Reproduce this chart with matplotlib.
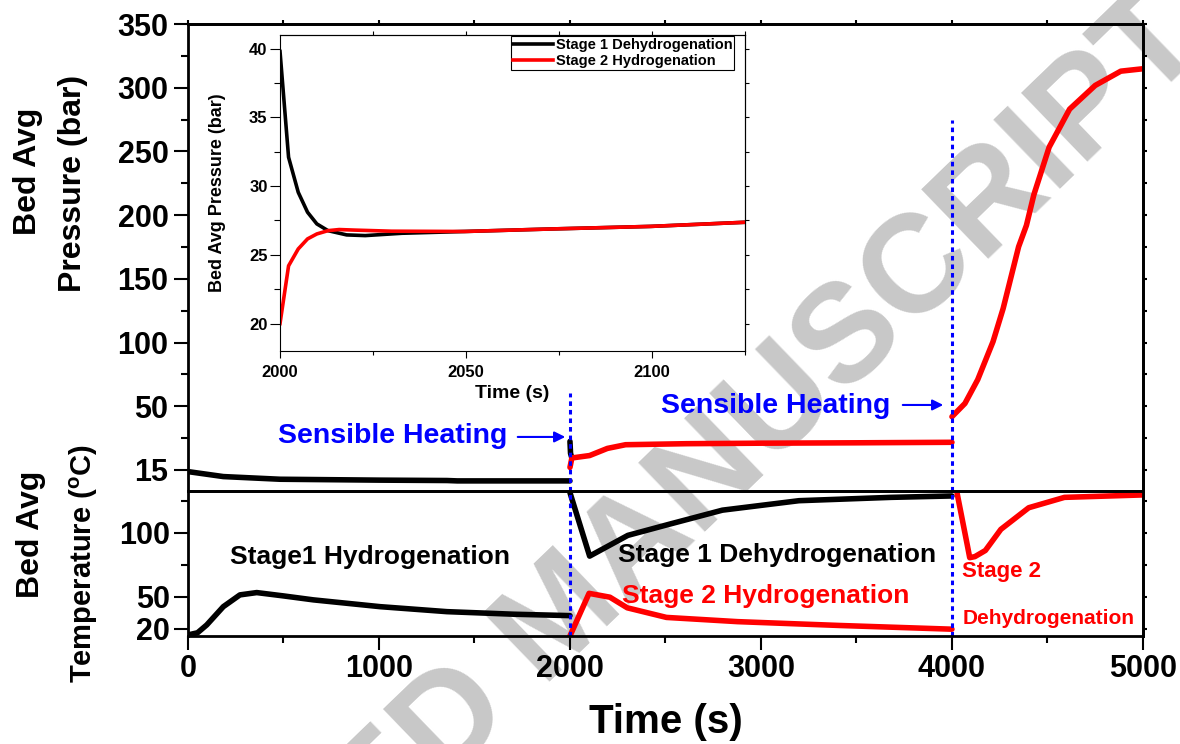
"""
Bed average pressure and temperature over two hydrogenation / dehydrogenation stages
"""
import matplotlib
matplotlib.use('Agg')
import matplotlib.pyplot as plt
from matplotlib.ticker import FixedLocator

plt.rcParams['font.family'] = ['Liberation Sans', 'DejaVu Sans']
plt.rcParams['font.weight'] = 'bold'
plt.rcParams['axes.labelweight'] = 'bold'
plt.rcParams['mathtext.fontset'] = 'custom'
plt.rcParams['mathtext.rm'] = 'Liberation Sans:bold'
plt.rcParams['mathtext.bf'] = 'Liberation Sans:bold'

# ---- top panel: pressure (axis position units) ----
p_h1_t = [0, 185, 482, 1000, 1356, 1410, 2000]
p_h1_v = [-1.3, -5.2, -7.3, -8.0, -8.3, -8.6, -8.6]
p_d1_t = [2000, 2003, 2010]
p_d1_v = [22.4, 13.0, 9.4]
p_h2_t = [2000, 2010, 2103, 2196, 2291, 2610, 3000, 3500, 4000]
p_h2_v = [2.0, 9.4, 11.3, 16.9, 19.8, 20.6, 21.0, 21.3, 21.7]
p_d2_t = [4000, 4068, 4135, 4215, 4268, 4349, 4390, 4429, 4509, 4616, 4750, 4884, 5000]
p_d2_v = [41.8, 52.2, 70.9, 100.7, 126.7, 175.2, 192.0, 216.1, 253.4, 283.2, 301.8, 313.0, 314.9]
p_ticks = [0, 50, 100, 150, 200, 250, 300, 350]
p_tick_labels = ['15', '50', '100', '150', '200', '250', '300', '350']

# ---- bottom panel: temperature ----
T_h1_t = [0, 50, 98, 185, 272, 360, 500, 657, 1006, 1356, 1705, 2000]
T_h1_v = [20.3, 22.0, 28.1, 42.4, 51.6, 53.4, 50.8, 47.7, 42.4, 38.5, 36.5, 35.4]
T_d1_t = [2000, 2103, 2303, 2517, 2798, 3199, 3680, 4000]
T_d1_v = [131.5, 81.9, 98.1, 106.7, 117.8, 125.2, 127.8, 128.9]
T_h2_t = [2000, 2100, 2209, 2300, 2505, 2877, 3412, 4000]
T_h2_v = [19.5, 52.8, 49.8, 41.5, 34.0, 30.7, 27.7, 24.8]
T_d2_t = [4027, 4081, 4093, 4120, 4175, 4256, 4402, 4589, 5000]
T_d2_v = [131.0, 90.0, 80.7, 81.5, 86.3, 102.8, 119.7, 127.8, 129.7]
T_ticks = [25, 50, 100]
T_tick_labels = ['20', '50', '100']

# ---- inset: pressure right after switching (bar) ----
in_d1_t = [2000, 2002.3, 2004.9, 2007.4, 2009.9, 2012.9, 2017.9, 2022.9, 2032.8, 2049.7, 2072.6, 2099.7, 2125]
in_d1_p = [39.8, 32.1, 29.55, 28.1, 27.25, 26.76, 26.45, 26.4, 26.57, 26.7, 26.88, 27.07, 27.37]
in_h2_t = [2000, 2002.3, 2004.9, 2007.4, 2009.9, 2012.9, 2015.9, 2020, 2030, 2049.7, 2072.6, 2099.7, 2125]
in_h2_p = [20.0, 24.2, 25.43, 26.16, 26.52, 26.76, 26.84, 26.8, 26.72, 26.7, 26.88, 27.07, 27.37]

switch_t = [2000, 4000]
switch_top = [60.3, 275.0]

LW = 4
fig = plt.figure(figsize=(11.8, 7.44), dpi=100)

# watermark behind everything
fig.text(0.477, 0.168, 'ACCEPTED MANUSCRIPT', rotation=44, rotation_mode='anchor',
         ha='center', va='center', fontsize=100, color='#c8c8c8', zorder=-1)

ax_p = fig.add_axes([0.1593, 0.3401, 0.8093, 0.6276])
ax_t = fig.add_axes([0.1593, 0.1452, 0.8093, 0.1949])
ax_in = fig.add_axes([0.2373, 0.5282, 0.3941, 0.4248])
for a in (ax_p, ax_t, ax_in):
    a.patch.set_alpha(0)


def mirror(ax, side, ticks, lw):
    if side == 'right':
        sec = ax.secondary_yaxis('right')
        sec.set_yticks(ticks)
        sec.tick_params(length=3, width=lw, labelright=False)
    else:
        sec = ax.secondary_xaxis('top')
        sec.set_xticks(ticks)
        sec.tick_params(length=3, width=lw, labeltop=False)
    for s in sec.spines.values():
        s.set_linewidth(2 if lw > 1 else 0.8)


# top panel
ax_p.plot(p_h1_t, p_h1_v, color='black', lw=LW, solid_capstyle='round')
ax_p.plot(p_d1_t, p_d1_v, color='black', lw=LW, solid_capstyle='round')
ax_p.plot(p_h2_t, p_h2_v, color='red', lw=LW, solid_capstyle='round')
ax_p.plot(p_d2_t, p_d2_v, color='red', lw=LW, solid_capstyle='round')
ax_p.vlines(switch_t, -16.5, switch_top, colors='blue', lw=2.2, linestyles=[(0, (1.5, 1.3))])
ax_p.set_xlim(0, 5000)
ax_p.set_ylim(-16.5, 350)
ax_p.set_yticks(p_ticks)
ax_p.set_yticklabels(p_tick_labels)
ax_p.yaxis.set_minor_locator(FixedLocator([25, 75, 125, 175, 225, 275, 325]))
ax_p.tick_params(axis='x', which='both', bottom=False, labelbottom=False)
ax_p.tick_params(axis='y', which='major', length=10, width=1.5, labelsize=22, pad=4)
ax_p.tick_params(axis='y', which='minor', length=5, width=1.5)
mirror(ax_p, 'right', list(range(0, 351, 25)), 1.5)
mirror(ax_p, 'top', list(range(0, 5001, 500)), 1.5)
for s in ax_p.spines.values():
    s.set_linewidth(2)

ax_p.annotate('', xy=(1990, 25.9), xytext=(1712, 25.9),
              arrowprops=dict(arrowstyle='-|>', color='blue', lw=1.5, mutation_scale=16))
ax_p.annotate('', xy=(3969, 51.0), xytext=(3728, 51.0),
              arrowprops=dict(arrowstyle='-|>', color='blue', lw=1.5, mutation_scale=16))
ax_p.text(1670, 26.7, 'Sensible Heating', color='blue', fontsize=20.5, ha='right', va='center')
ax_p.text(3675, 50.2, 'Sensible Heating', color='blue', fontsize=20.5, ha='right', va='center')

# bottom panel
ax_t.plot(T_h1_t, T_h1_v, color='black', lw=LW, solid_capstyle='round')
ax_t.plot(T_d1_t, T_d1_v, color='black', lw=LW, solid_capstyle='round')
ax_t.plot(T_h2_t, T_h2_v, color='red', lw=LW, solid_capstyle='round')
ax_t.plot(T_d2_t, T_d2_v, color='red', lw=LW, solid_capstyle='round')
ax_t.vlines(switch_t, 19.5, 132.8, colors='blue', lw=2.2, linestyles=[(0, (1.5, 1.3))])
ax_t.set_xlim(0, 5000)
ax_t.set_ylim(19.5, 132.8)
ax_t.set_yticks(T_ticks)
ax_t.set_yticklabels(T_tick_labels)
ax_t.yaxis.set_minor_locator(FixedLocator([75, 125]))
ax_t.set_xticks([0, 1000, 2000, 3000, 4000, 5000])
ax_t.xaxis.set_minor_locator(FixedLocator([500, 1500, 2500, 3500, 4500]))
ax_t.tick_params(which='major', length=10, width=1.5, labelsize=22, pad=3)
ax_t.tick_params(which='minor', length=5, width=1.5)
mirror(ax_t, 'right', [25, 50, 75, 100, 125], 1.5)
for s in ax_t.spines.values():
    s.set_linewidth(2)

ax_t.text(220, 81.5, 'Stage1 Hydrogenation', fontsize=19, ha='left', va='center')
ax_t.text(2251, 82.8, 'Stage 1 Dehydrogenation', fontsize=19, ha='left', va='center')
ax_t.text(2272, 50.8, 'Stage 2 Hydrogenation', color='red', fontsize=19, ha='left', va='center')
ax_t.text(4055, 69.8, 'Stage 2', color='red', fontsize=16, ha='left', va='center')
ax_t.text(4055, 33.4, 'Dehydrogenation', color='red', fontsize=15, ha='left', va='center')

# inset
ax_in.plot(in_d1_t, in_d1_p, color='black', lw=2.6, label='Stage 1 Dehydrogenation')
ax_in.plot(in_h2_t, in_h2_p, color='red', lw=2.6, label='Stage 2 Hydrogenation')
ax_in.set_xlim(2000, 2125)
ax_in.set_ylim(18, 41)
ax_in.set_xticks([2000, 2050, 2100])
ax_in.xaxis.set_minor_locator(FixedLocator([2025, 2075, 2125]))
ax_in.set_yticks([20, 25, 30, 35, 40])
ax_in.yaxis.set_minor_locator(FixedLocator([22.5, 27.5, 32.5, 37.5]))
ax_in.tick_params(axis='y', which='major', length=7, width=0.8, labelsize=12, pad=2)
ax_in.tick_params(axis='y', which='minor', length=4, width=0.8)
ax_in.tick_params(axis='x', which='major', length=5, width=0.8, labelsize=12, pad=5)
ax_in.tick_params(axis='x', which='minor', length=3, width=0.8)
mirror(ax_in, 'right', [20, 22.5, 25, 27.5, 30, 32.5, 35, 37.5, 40], 0.8)
mirror(ax_in, 'top', [2025, 2050, 2075, 2100, 2125], 0.8)
for s in ax_in.spines.values():
    s.set_linewidth(0.8)
ax_in.set_xlabel('Time (s)', fontsize=14, labelpad=4)
ax_in.set_ylabel('Bed Avg Pressure (bar)', fontsize=13)
ax_in.yaxis.set_label_coords(-0.116, 0.5)
leg = ax_in.legend(loc='upper right', bbox_to_anchor=(0.977, 0.998), borderaxespad=0,
                   fontsize=10.5, handlelength=2.7, handletextpad=0.2, labelspacing=0.15,
                   borderpad=0.15, fancybox=False, framealpha=1, edgecolor='black')
leg.get_frame().set_linewidth(0.8)

# axis titles
fig.text(0.564, 0.0296, 'Time (s)', fontsize=29, ha='center', va='center')
fig.text(0.0237, 0.770, 'Bed Avg', fontsize=23, rotation=90, ha='center', va='center')
fig.text(0.0619, 0.754, 'Pressure (bar)', fontsize=23, rotation=90, ha='center', va='center')
fig.text(0.0263, 0.282, 'Bed Avg', fontsize=23, rotation=90, ha='center', va='center')
fig.text(0.0712, 0.243, r'Temperature ($^{\mathbf{o}}$C)', fontsize=21, rotation=90,
         ha='center', va='center')

plt.savefig('out.png', dpi=100)
